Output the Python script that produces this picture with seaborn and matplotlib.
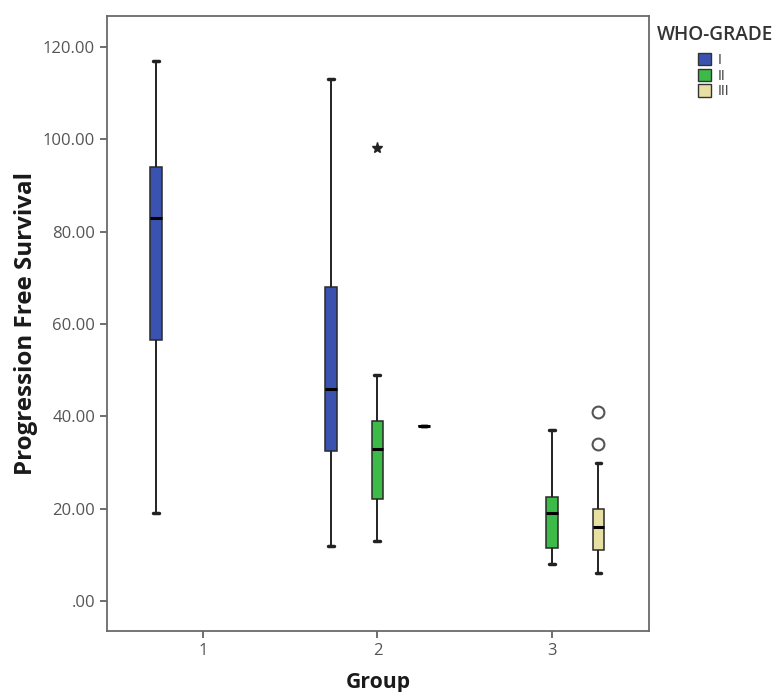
import pandas as pd
import seaborn as sns
import matplotlib.pyplot as plt
from matplotlib.patches import Patch

# values (SPSS boxplot)
g1_grade1 = [19, 56.5, 83, 94, 117]
g2_grade1 = [12, 32.5, 46, 68, 113]
g2_grade2 = [13, 17, 22, 28, 33, 36, 39, 49, 98]
g2_grade3 = [38]
g3_grade2 = [8, 11.5, 19, 22.5, 37]
g3_grade3 = [6, 8, 10, 11, 13, 15, 16, 17, 19, 20, 30, 34, 41]

groups = ['1', '2', '3']
grades = ['I', 'II', 'III']
colors = ['#3a53b0', '#3cbb48', '#e8e0a2']
yticks = [0, 20, 40, 60, 80, 100, 120]
ytick_labels = ['.00', '20.00', '40.00', '60.00', '80.00', '100.00', '120.00']

rows = []
for grp, grade, vals in [('1', 'I', g1_grade1), ('2', 'I', g2_grade1),
                         ('2', 'II', g2_grade2), ('2', 'III', g2_grade3),
                         ('3', 'II', g3_grade2), ('3', 'III', g3_grade3)]:
    for v in vals:
        rows.append({'Group': grp, 'grade': grade, 'pfs': v})
df = pd.DataFrame(rows)

sns.set_style('white')
plt.rcParams['font.family'] = ['Open Sans', 'DejaVu Sans']

fig = plt.figure(figsize=(7.74, 6.92), dpi=100)
ax = fig.add_axes([0.138, 0.088, 0.7005, 0.889])

# one call per grade so each can get its own outlier marker
fliers = {
    'I': dict(marker='o', markersize=7, markerfacecolor='none', markeredgecolor='#333333'),
    'II': dict(marker='*', markersize=8, markerfacecolor='#222222', markeredgecolor='#222222'),
    'III': dict(marker='o', markersize=8.5, markerfacecolor='white', markeredgecolor='#555555',
                markeredgewidth=1.5),
}
for grade in grades:
    sns.boxplot(data=df[df['grade'] == grade], x='Group', y='pfs', hue='grade',
                order=groups, hue_order=grades, palette=colors, ax=ax, dodge=True,
                saturation=1, width=0.8, gap=0.75, legend=False,
                linecolor='#2a2a2a', linewidth=1.1,
                medianprops=dict(color='black', linewidth=2.2),
                whiskerprops=dict(color='#222222', linewidth=1.4),
                capprops=dict(color='#222222', linewidth=2.5),
                flierprops=fliers[grade])

ax.set_xlim(-0.55, 2.556)
ax.set_ylim(-6.5, 126.7)
ax.set_yticks(yticks)
ax.set_yticklabels(ytick_labels)

for s in ax.spines.values():
    s.set_color('#6a6a6a')
    s.set_linewidth(1.3)
    s.set_visible(True)
ax.tick_params(axis='both', which='both', direction='out', length=5, width=1.2,
               color='#555555', labelcolor='#555555', labelsize=12, left=True, bottom=True)

ax.set_xlabel('Group', fontsize=15.2, fontweight='bold', color='#1a1a1a')
ax.set_ylabel('Progression Free Survival', fontsize=17.4, fontweight='bold', color='#1a1a1a')
ax.xaxis.set_label_coords(0.5, -0.066)
ax.yaxis.set_label_coords(-0.127, 0.5)

# legend title as separate text so the gap to the entries can match
fig.text(715 / 774, 1 - 25 / 692, 'WHO-GRADE', ha='center', va='top',
         fontsize=13.7, fontweight='semibold', color='#333333')
handles = [Patch(facecolor=c, edgecolor='#333333', linewidth=1) for c in colors]
leg = ax.legend(handles, grades, loc='upper left',
                bbox_to_anchor=(698 / 774, 1 - 53 / 692), bbox_transform=fig.transFigure,
                frameon=False, fontsize=10, borderpad=0, borderaxespad=0,
                handlelength=0.95, handleheight=1.0,
                handletextpad=0.45, labelspacing=0.05)
for t in leg.get_texts():
    t.set_color('#333333')

fig.savefig('out.png', dpi=100)
